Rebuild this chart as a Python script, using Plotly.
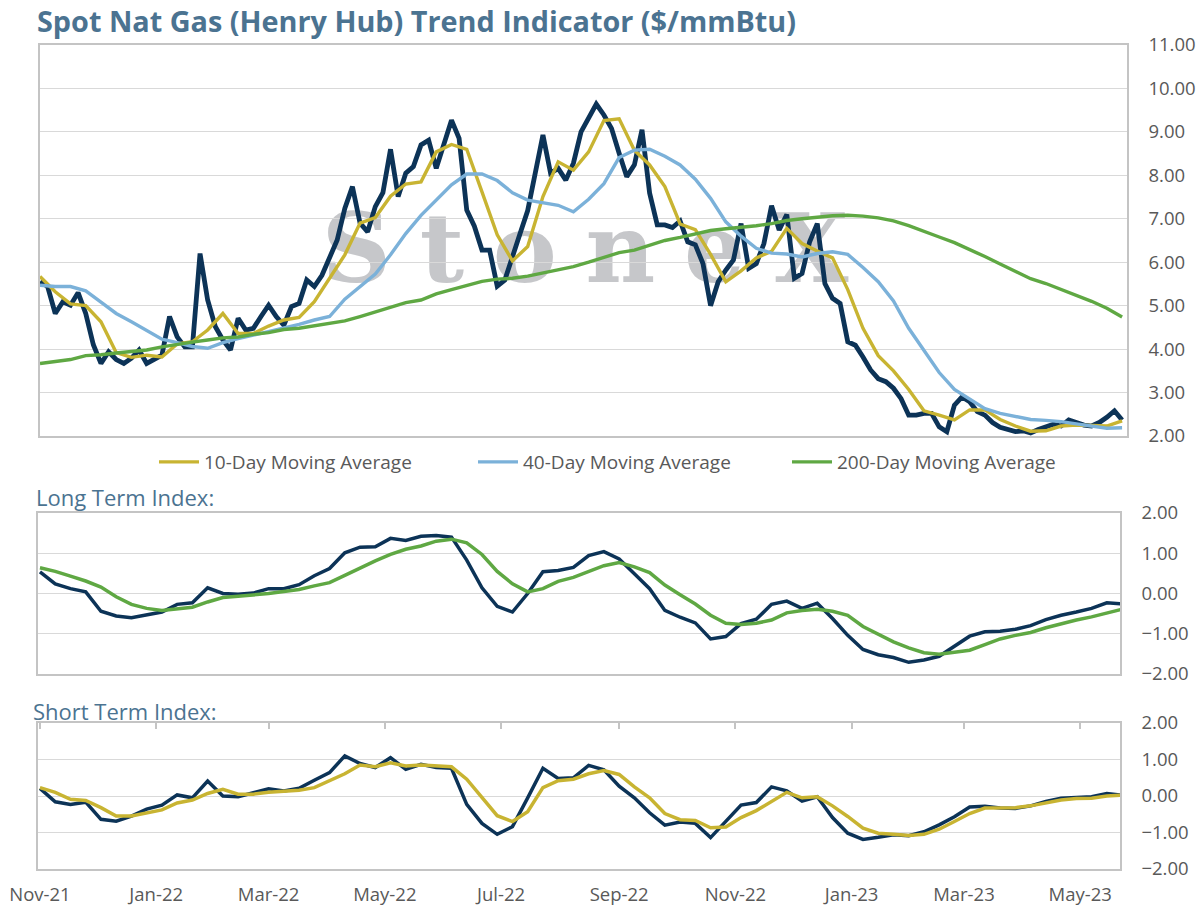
import pandas as pd
import plotly.graph_objects as go

# ---------------- data ----------------
series_start = "2021-11-01"
price_step = "4D"      # spot price sampled every 4 days
avg_step = "8D"        # averages / indices sampled every 8 days

henry_hub_spot = [
    5.55, 5.44, 4.82, 5.09, 5.01, 5.30, 4.82, 4.10, 3.67, 3.94,
    3.76, 3.67, 3.79, 3.98, 3.67, 3.75, 3.86, 4.75, 4.28, 4.05,
    4.05, 6.20, 5.13, 4.52, 4.21, 3.98, 4.71, 4.44, 4.48, 4.75,
    5.01, 4.75, 4.55, 4.98, 5.05, 5.59, 5.44, 5.70, 6.13, 6.51,
    7.24, 7.74, 6.90, 6.70, 7.28, 7.60, 8.60, 7.51, 8.05, 8.20,
    8.70, 8.81, 8.16, 8.70, 9.27, 8.85, 7.20, 6.83, 6.28, 6.28,
    5.45, 5.59, 6.17, 6.66, 7.19, 8.12, 8.93, 8.05, 8.16, 7.89,
    8.28, 9.00, 9.31, 9.64, 9.39, 9.08, 8.51, 7.97, 8.24, 9.05,
    7.59, 6.86, 6.86, 6.80, 6.95, 6.47, 6.40, 5.97, 5.00, 5.55,
    5.82, 6.05, 6.89, 5.86, 5.97, 6.43, 7.30, 6.74, 7.10, 5.63,
    5.74, 6.47, 6.89, 5.51, 5.17, 5.05, 4.17, 4.09, 3.82, 3.52,
    3.32, 3.25, 3.10, 2.86, 2.48, 2.48, 2.52, 2.52, 2.21, 2.10,
    2.71, 2.90, 2.79, 2.56, 2.48, 2.31, 2.20, 2.14, 2.10, 2.12,
    2.07, 2.15, 2.20, 2.27, 2.23, 2.37, 2.31, 2.25, 2.23, 2.31,
    2.43, 2.58, 2.37,
]

ma_10_day = [
    5.67, 5.32, 5.04, 5.00, 4.63, 3.92, 3.81, 3.86, 3.82, 4.12,
    4.17, 4.44, 4.82, 4.36, 4.36, 4.53, 4.67, 4.73, 5.09, 5.63,
    6.17, 6.90, 7.03, 7.52, 7.80, 7.85, 8.54, 8.71, 8.60, 7.62,
    6.63, 6.03, 6.36, 7.51, 8.31, 8.12, 8.54, 9.26, 9.30, 8.58,
    8.24, 7.74, 6.88, 6.75, 6.18, 5.55, 5.80, 6.10, 6.25, 6.78,
    6.43, 6.26, 6.10, 5.37, 4.48, 3.85, 3.50, 3.07, 2.58, 2.48,
    2.37, 2.60, 2.60, 2.38, 2.23, 2.11, 2.12, 2.23, 2.25, 2.24,
    2.23, 2.35,
]

ma_40_day = [
    5.47, 5.44, 5.44, 5.34, 5.08, 4.82, 4.63, 4.44, 4.23, 4.15,
    4.06, 4.02, 4.15, 4.24, 4.32, 4.41, 4.49, 4.57, 4.67, 4.75,
    5.15, 5.44, 5.73, 6.17, 6.66, 7.08, 7.43, 7.78, 8.03, 8.03,
    7.88, 7.60, 7.43, 7.37, 7.31, 7.16, 7.45, 7.81, 8.41, 8.58,
    8.60, 8.44, 8.24, 7.91, 7.47, 6.93, 6.60, 6.32, 6.21, 6.19,
    6.12, 6.20, 6.24, 6.18, 5.88, 5.55, 5.11, 4.48, 3.98, 3.46,
    3.07, 2.84, 2.63, 2.52, 2.44, 2.38, 2.36, 2.33, 2.28, 2.22,
    2.18, 2.19,
]

ma_200_day = [
    3.67, 3.72, 3.76, 3.85, 3.87, 3.91, 3.94, 3.98, 4.05, 4.11,
    4.16, 4.21, 4.26, 4.28, 4.34, 4.38, 4.45, 4.48, 4.54, 4.60,
    4.65, 4.75, 4.85, 4.96, 5.07, 5.13, 5.27, 5.37, 5.47, 5.56,
    5.61, 5.63, 5.68, 5.75, 5.82, 5.90, 6.00, 6.11, 6.22, 6.28,
    6.40, 6.50, 6.57, 6.66, 6.73, 6.77, 6.80, 6.84, 6.89, 6.96,
    7.00, 7.04, 7.07, 7.08, 7.06, 7.02, 6.95, 6.84, 6.70, 6.58,
    6.45, 6.30, 6.13, 5.96, 5.78, 5.62, 5.51, 5.38, 5.24, 5.10,
    4.94, 4.74,
]

long_term_index = [
    0.54, 0.24, 0.12, 0.04, -0.44, -0.56, -0.60, -0.54, -0.46, -0.27,
    -0.23, 0.14, 0.00, -0.02, 0.01, 0.12, 0.12, 0.22, 0.44, 0.62,
    1.01, 1.15, 1.16, 1.37, 1.32, 1.42, 1.44, 1.40, 0.83, 0.14,
    -0.32, -0.46, 0.00, 0.54, 0.57, 0.65, 0.94, 1.04, 0.86, 0.49,
    0.12, -0.42, -0.59, -0.73, -1.13, -1.07, -0.75, -0.64, -0.27, -0.19,
    -0.37, -0.24, -0.62, -1.04, -1.39, -1.52, -1.59, -1.71, -1.65, -1.56,
    -1.32, -1.06, -0.95, -0.94, -0.89, -0.80, -0.65, -0.54, -0.46, -0.37,
    -0.23, -0.26,
]

long_term_signal = [
    0.64, 0.55, 0.43, 0.31, 0.16, -0.08, -0.27, -0.37, -0.42, -0.38,
    -0.34, -0.21, -0.10, -0.07, -0.04, 0.00, 0.05, 0.10, 0.19, 0.27,
    0.45, 0.64, 0.81, 0.97, 1.10, 1.18, 1.30, 1.35, 1.26, 0.97,
    0.55, 0.24, 0.04, 0.12, 0.30, 0.40, 0.54, 0.69, 0.77, 0.66,
    0.52, 0.21, -0.03, -0.26, -0.54, -0.74, -0.77, -0.74, -0.66, -0.48,
    -0.42, -0.39, -0.44, -0.54, -0.82, -1.01, -1.20, -1.35, -1.47, -1.51,
    -1.47, -1.41, -1.27, -1.13, -1.04, -0.97, -0.85, -0.75, -0.66, -0.58,
    -0.49, -0.39,
]

short_term_index = [
    0.21, -0.16, -0.23, -0.17, -0.64, -0.69, -0.55, -0.36, -0.25, 0.03,
    -0.05, 0.41, 0.00, -0.02, 0.09, 0.20, 0.14, 0.21, 0.43, 0.64,
    1.10, 0.89, 0.78, 1.05, 0.73, 0.87, 0.78, 0.76, -0.23, -0.75,
    -1.05, -0.84, -0.05, 0.76, 0.48, 0.50, 0.84, 0.72, 0.27, -0.05,
    -0.46, -0.80, -0.71, -0.75, -1.14, -0.69, -0.25, -0.18, 0.25, 0.14,
    -0.14, -0.02, -0.59, -1.02, -1.19, -1.13, -1.06, -1.09, -0.98, -0.79,
    -0.57, -0.30, -0.28, -0.33, -0.34, -0.27, -0.15, -0.06, -0.05, -0.02,
    0.07, 0.02,
]

short_term_signal = [
    0.23, 0.10, -0.09, -0.12, -0.32, -0.55, -0.55, -0.46, -0.38, -0.19,
    -0.11, 0.07, 0.18, 0.05, 0.05, 0.10, 0.12, 0.16, 0.23, 0.41,
    0.61, 0.85, 0.80, 0.91, 0.82, 0.85, 0.82, 0.80, 0.46, -0.05,
    -0.54, -0.70, -0.43, 0.23, 0.42, 0.46, 0.61, 0.70, 0.59, 0.25,
    -0.05, -0.48, -0.65, -0.67, -0.87, -0.85, -0.59, -0.40, -0.15, 0.10,
    -0.05, -0.02, -0.27, -0.56, -0.88, -1.02, -1.05, -1.08, -1.05, -0.91,
    -0.70, -0.48, -0.33, -0.33, -0.32, -0.27, -0.20, -0.11, -0.07, -0.06,
    0.00, 0.02,
]

month_ticks = ["2021-11-01", "2022-01-01", "2022-03-01", "2022-05-01", "2022-07-01",
               "2022-09-01", "2022-11-01", "2023-01-01", "2023-03-01", "2023-05-01"]
month_labels = ["Nov-21", "Jan-22", "Mar-22", "May-22", "Jul-22",
                "Sep-22", "Nov-22", "Jan-23", "Mar-23", "May-23"]

price_dates = pd.date_range(series_start, periods=len(henry_hub_spot), freq=price_step)
avg_dates = pd.date_range(series_start, periods=len(ma_10_day), freq=avg_step)

# ---------------- styling ----------------
W, H = 1199, 910
NAVY = "#0c3357"
GOLD = "#c8b432"
BLUE = "#7bb1d9"
GREEN = "#5fa843"
TITLE_C = "#4b7391"
TEXT_C = "#595959"
GRID_C = "#d9d9d9"
BORDER_C = "#c4c4c4"
FONT = "Open Sans"


def fx(p):
    return p / W


def fy(p):
    return 1 - p / H


top_range = ["2021-11-01", "2023-05-25 14:00"]
low_range = ["2021-10-30 23:00", "2023-05-21 22:00"]

fig = go.Figure()

# top panel
fig.add_trace(go.Scatter(x=price_dates, y=henry_hub_spot, mode="lines",
                         line=dict(color=NAVY, width=4.8), showlegend=False,
                         name="Henry Hub Spot", xaxis="x", yaxis="y"))
fig.add_trace(go.Scatter(x=avg_dates, y=ma_10_day, mode="lines",
                         line=dict(color=GOLD, width=3.4), name="10-Day Moving Average",
                         legend="legend", xaxis="x", yaxis="y"))
fig.add_trace(go.Scatter(x=avg_dates, y=ma_40_day, mode="lines",
                         line=dict(color=BLUE, width=3.4), name="40-Day Moving Average",
                         legend="legend2", xaxis="x", yaxis="y"))
fig.add_trace(go.Scatter(x=avg_dates, y=ma_200_day, mode="lines",
                         line=dict(color=GREEN, width=3.4), name="200-Day Moving Average",
                         legend="legend3", xaxis="x", yaxis="y"))

# long term panel
fig.add_trace(go.Scatter(x=avg_dates, y=long_term_index, mode="lines",
                         line=dict(color=NAVY, width=3.5), showlegend=False,
                         name="Long Term Index", xaxis="x2", yaxis="y2"))
fig.add_trace(go.Scatter(x=avg_dates, y=long_term_signal, mode="lines",
                         line=dict(color=GREEN, width=3.5), showlegend=False,
                         name="Long Term Signal", xaxis="x2", yaxis="y2"))

# short term panel
fig.add_trace(go.Scatter(x=avg_dates, y=short_term_index, mode="lines",
                         line=dict(color=NAVY, width=3.5), showlegend=False,
                         name="Short Term Index", xaxis="x3", yaxis="y3"))
fig.add_trace(go.Scatter(x=avg_dates, y=short_term_signal, mode="lines",
                         line=dict(color=GOLD, width=3.5), showlegend=False,
                         name="Short Term Signal", xaxis="x3", yaxis="y3"))
# carrier for the top tick marks of the short term panel
fig.add_trace(go.Scatter(x=[], y=[], mode="lines", showlegend=False,
                         hoverinfo="skip", xaxis="x4", yaxis="y3"))

box = dict(showline=True, mirror=True, linecolor=BORDER_C, linewidth=1.5, automargin=False)
yfmt = dict(side="right", tickformat=".2f", dtick=1, gridcolor=GRID_C, gridwidth=1,
            zeroline=False, ticks="", ticklabelstandoff=16,
            tickfont=dict(family=FONT, size=18.5, color=TEXT_C))

fig.update_layout(
    width=W, height=H,
    margin=dict(l=0, r=0, t=0, b=0, pad=0, autoexpand=False),
    paper_bgcolor="white", plot_bgcolor="rgba(0,0,0,0)",
    font=dict(family=FONT, color=TEXT_C),
    xaxis=dict(domain=[fx(40), fx(1127)], anchor="y", type="date", range=top_range,
               showticklabels=False, showgrid=False, ticks="", **box),
    yaxis=dict(domain=[fy(436), fy(45)], anchor="x", range=[2, 11], **yfmt, **box),
    xaxis2=dict(domain=[fx(38), fx(1120)], anchor="y2", type="date", range=low_range,
                showticklabels=False, showgrid=False, ticks="", **box),
    yaxis2=dict(domain=[fy(674), fy(513)], anchor="x2", range=[-2, 2], **yfmt, **box),
    xaxis3=dict(domain=[fx(38), fx(1120)], anchor="y3", type="date", range=low_range,
                tickvals=month_ticks, ticktext=month_labels, showgrid=False,
                ticks="", ticklabelstandoff=8,
                tickfont=dict(family=FONT, size=18.5, color=TEXT_C), **box),
    xaxis4=dict(domain=[fx(38), fx(1120)], overlaying="x3", anchor="y3", side="top",
                type="date", range=low_range, tickvals=month_ticks, ticks="inside",
                ticklen=6, tickwidth=1.5, tickcolor=BORDER_C, showticklabels=False,
                showgrid=False, showline=False, automargin=False),
    yaxis3=dict(domain=[fy(869), fy(723)], anchor="x3", range=[-2, 2], **yfmt, **box),
)

legend_common = dict(orientation="h", yanchor="middle", y=fy(462), xanchor="left",
                     bgcolor="rgba(0,0,0,0)", borderwidth=0, itemwidth=40,
                     font=dict(family=FONT, size=19, color=TEXT_C))
fig.update_layout(
    legend=dict(x=fx(154), **legend_common),
    legend2=dict(x=fx(473), **legend_common),
    legend3=dict(x=fx(787), **legend_common),
)

# watermark behind the lines
fig.add_shape(type="rect", xref="paper", yref="paper",
              x0=fx(300), x1=fx(870), y0=fy(290), y1=fy(195),
              line=dict(width=0), fillcolor="rgba(0,0,0,0)", layer="below",
              label=dict(text="S\u2009\u200at\u2009\u200ao\u2009\u200an\u2009\u200ae\u2009\u200aX",
                         font=dict(family="DejaVu Serif", size=96, weight="bold",
                                   color="rgba(188,189,193,0.85)"),
                         textposition="middle center"))

# titles
fig.add_annotation(text="<b>Spot Nat Gas (Henry Hub) Trend Indicator ($/mmBtu)</b>",
                   xref="paper", yref="paper", x=fx(35), y=fy(20), xanchor="left",
                   yanchor="middle", showarrow=False,
                   font=dict(family=FONT, size=28.8, color=TITLE_C))
fig.add_annotation(text="Long Term Index:", xref="paper", yref="paper",
                   x=fx(34), y=fy(497), xanchor="left", yanchor="middle", showarrow=False,
                   font=dict(family=FONT, size=22, color=TITLE_C))
fig.add_annotation(text="Short Term Index:", xref="paper", yref="paper",
                   x=fx(31), y=fy(711), xanchor="left", yanchor="middle", showarrow=False,
                   font=dict(family=FONT, size=22, color=TITLE_C))

fig.write_html("out.html", config={"displayModeBar": False},
               post_script="document.body.style.margin='0';")
